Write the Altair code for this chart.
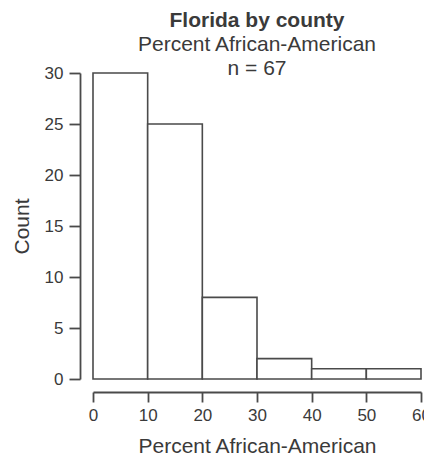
import altair as alt
import pandas as pd

bin_start = [0, 10, 20, 30, 40, 50]
bin_end = [10, 20, 30, 40, 50, 60]
counts = [30, 25, 8, 2, 1, 1]
x_ticks = [0, 10, 20, 30, 40, 50, 60]
y_ticks = [0, 5, 10, 15, 20, 25, 30]

df = pd.DataFrame({"start": bin_start, "end": bin_end, "count": counts})

FONT = "Liberation Sans"
INK = "#3a3a3a"
LINE = "#4a4a4a"

chart = alt.Chart(df).mark_bar(
    fill="white", stroke=LINE, strokeWidth=1.6
).encode(
    x=alt.X("start:Q",
            scale=alt.Scale(domain=[0, 60], nice=False, zero=False),
            axis=alt.Axis(values=x_ticks, title="Percent African-American",
                          offset=13, grid=False, tickSize=10, labelPadding=5,
                          titlePadding=12, labelFlush=False)),
    x2="end:Q",
    y=alt.Y("count:Q",
            scale=alt.Scale(domain=[0, 30], nice=False),
            axis=alt.Axis(values=y_ticks, title="Count", offset=13, grid=False,
                          tickSize=11, labelPadding=6, titlePadding=12)),
    y2=alt.datum(0),
).properties(
    width=328,
    height=306,
    title=alt.Title("Florida by county",
                    subtitle=["Percent African-American", "n = 67"],
                    font=FONT, fontSize=21, fontWeight="bold", color=INK,
                    subtitleFont=FONT, subtitleFontSize=21, subtitleColor=INK,
                    subtitlePadding=3, subtitleLineHeight=24,
                    anchor="middle", offset=-15),
    autosize=alt.AutoSizeParams(type="none"),
    padding={"left": 85, "top": 65, "right": 3, "bottom": 76},
).configure_view(
    stroke=None
).configure_axis(
    labelFont=FONT, labelFontSize=17, labelColor=INK,
    titleFont=FONT, titleFontSize=21, titleFontWeight="normal", titleColor=INK,
    domainColor=LINE, domainWidth=1.8, tickColor=LINE, tickWidth=1.8,
)

chart.save("out.html", embed_options={"renderer": "svg", "actions": False})
